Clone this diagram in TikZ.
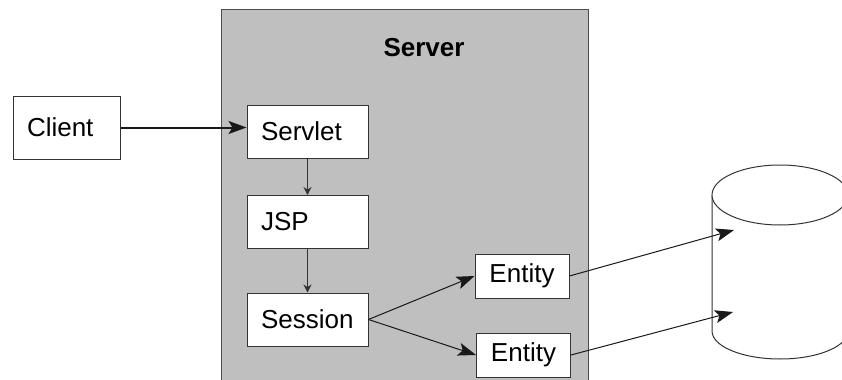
\documentclass[tikz,border=0pt]{standalone}
\usepackage{fontspec}
\setmainfont{Liberation Sans}
\usetikzlibrary{arrows.meta}
\begin{document}
\begin{tikzpicture}[x=0.5pt,y=-0.5pt,
  box/.style={draw=black!80, fill=white, line width=0.5pt, inner xsep=7pt, font=\fontsize{13}{15}\selectfont},
  tier/.style={box, text width=46.5pt, align=left, minimum height=26.5pt},
  entitybox/.style={box, inner xsep=0pt, minimum width=47pt, minimum height=22pt},
  link/.style={draw=black!90, line width=0.5pt, -{Stealth[length=9pt,width=6.5pt,inset=2pt]}},
  thinlink/.style={draw=black!80, line width=0.5pt, -{Stealth[length=4pt,width=4pt]}}]
\clip (0,0) rectangle (842,380);
% server area
\draw[draw=black!70, fill=black!25, line width=0.5pt] (221,9) rectangle (588,400);
\node[font=\bfseries\fontsize{13}{15}\selectfont] (title) at (424,48) {Server};
% boxes
\node[box, text width=39.5pt, align=left, minimum height=31.5pt] (client) at (66.5,127.5) {Client};
\node[tier] (servlet) at (307.5,131.5) {Servlet};
\node[tier] (jsp) at (307.5,222) {JSP};
\node[tier] (session) at (307.5,319.5) {Session};
\node[entitybox] (entA) at (522,276) {Entity};
\node[entitybox] (entB) at (523.5,355) {Entity};
% database
\draw[draw=black!80, fill=white, line width=0.5pt] (712,195) -- (712,331) arc[start angle=180, end angle=0, x radius=68, y radius=28] -- (848,195);
\draw[draw=black!80, fill=white, line width=0.5pt] (780,195) ellipse[x radius=68, y radius=30];
\coordinate (dbA) at (734,230);
\coordinate (dbB) at (733,312);
% connectors
\draw[link, line width=1pt] (client.east) -- (client.east -| servlet.west);
\draw[thinlink] (servlet) -- (jsp);
\draw[thinlink] (jsp) -- (session);
\draw[link] (session.east) -- (entA.west);
\draw[link] (session.east) -- (entB.west);
\draw[link] (entA.east) -- (dbA);
\draw[link] (entB.east) -- (dbB);
\end{tikzpicture}
\end{document}
